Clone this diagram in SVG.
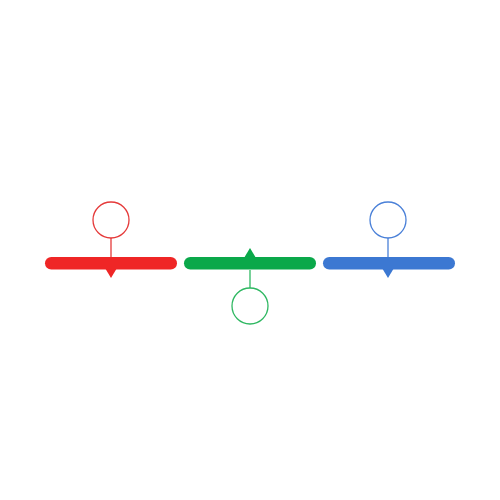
<svg xmlns="http://www.w3.org/2000/svg" width="500" height="500" viewBox="0 0 500 500">
<style>
.c{fill:#fff;stroke-width:1.3}
.l{stroke-width:1.3}
</style>
<rect width="500" height="500" fill="#fff"/>
<g id="connectors">
<line class="l" x1="111" y1="238" x2="111" y2="257" stroke="#e53a3a"/>
<line class="l" x1="250" y1="270" x2="250" y2="288" stroke="#2fb862"/>
<line class="l" x1="388" y1="238" x2="388" y2="257" stroke="#4a80d8"/>
</g>
<g id="red">
<rect x="45" y="257" width="132" height="12.5" rx="6.25" fill="#ef2626"/>
<polygon points="105,268 117,268 111,278" fill="#ef2626"/>
<circle class="c" cx="111" cy="220" r="18" stroke="#e53a3a"/>
</g>
<g id="green">
<rect x="184" y="257" width="132" height="12.5" rx="6.25" fill="#0aa84a"/>
<polygon points="244,258 256,258 250,248" fill="#0aa84a"/>
<circle class="c" cx="250" cy="306" r="18" stroke="#2fb862"/>
</g>
<g id="blue">
<rect x="323" y="257" width="132" height="12.5" rx="6.25" fill="#3c78d2"/>
<polygon points="382,268 394,268 388,278" fill="#3c78d2"/>
<circle class="c" cx="388" cy="220" r="18" stroke="#4a80d8"/>
</g>
</svg>
